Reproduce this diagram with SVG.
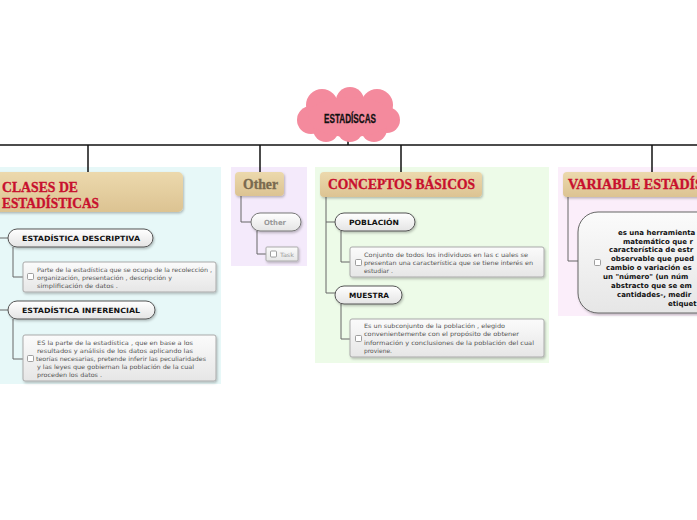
<svg xmlns="http://www.w3.org/2000/svg" width="697" height="520" viewBox="0 0 697 520">
<defs>
<linearGradient id="gHead" x1="0" y1="0" x2="0" y2="1"><stop offset="0" stop-color="#ecd9ad"/><stop offset="1" stop-color="#dcc392"/></linearGradient>
<linearGradient id="gPill" x1="0" y1="0" x2="0" y2="1"><stop offset="0" stop-color="#ffffff"/><stop offset="1" stop-color="#e4e4e4"/></linearGradient>
<linearGradient id="gBox" x1="0" y1="0" x2="0" y2="1"><stop offset="0" stop-color="#fbfbfb"/><stop offset="1" stop-color="#e6e6e6"/></linearGradient>
<filter id="sh" x="-10%" y="-20%" width="130%" height="160%"><feDropShadow dx="1" dy="1.5" stdDeviation="1" flood-color="#000" flood-opacity="0.25"/></filter>
</defs>
<style>
.bg{stroke:none}
.head{fill:url(#gHead);filter:url(#sh)}
.ht{font-family:"Liberation Serif","Times New Roman",serif;font-weight:bold;font-size:15px;fill:#c8102e;stroke:#c8102e;stroke-width:0.35}
.pill{fill:url(#gPill);stroke:#555;stroke-width:1;filter:url(#sh)}
.pt{font-family:"DejaVu Sans",Verdana,sans-serif;font-weight:bold;font-size:7.2px;fill:#111}
.box{fill:url(#gBox);stroke:#aaa;stroke-width:1;filter:url(#sh)}
.dt{font-family:"DejaVu Sans",Verdana,sans-serif;font-size:6px;fill:#555}
.cb{fill:#fff;stroke:#888;stroke-width:0.8}
.tree{fill:none;stroke:#666;stroke-width:1}
.main{fill:none;stroke:#111;stroke-width:1.5}
.vt{font-family:"DejaVu Sans",Verdana,sans-serif;font-weight:bold;font-size:7px;fill:#111}
</style>
<rect width="697" height="520" fill="#fff"/>

<!-- panels -->
<rect class="bg" x="0" y="167" width="221" height="217" fill="#e7f8f8"/>
<rect class="bg" x="231" y="167" width="76" height="99" fill="#f4eafb"/>
<rect class="bg" x="315" y="167" width="234" height="196" fill="#edfbe8"/>
<rect class="bg" x="558" y="167" width="139" height="149" fill="#fbeefa"/>

<g id="connectors">
<line class="main" x1="0" y1="145" x2="697" y2="145"/>
<line class="main" x1="348" y1="140" x2="348" y2="145"/>
<line class="main" x1="88" y1="145" x2="88" y2="172"/>
<line class="main" x1="260" y1="145" x2="260" y2="172"/>
<line class="main" x1="401" y1="145" x2="401" y2="172"/>
<line class="main" x1="652" y1="145" x2="652" y2="172"/>
<path class="tree" d="M0,238 H8 M0,310 H8"/>
<path class="tree" d="M13,247 V277 H23"/>
<path class="tree" d="M13,319 V359 H23"/>
<path class="tree" d="M241,196 V222 H251"/>
<path class="tree" d="M257,231 V254 H266"/>
<path class="tree" d="M326,197 V293 H335 M326,222 H335"/>
<path class="tree" d="M341,231 V262 H350"/>
<path class="tree" d="M341,304 V339 H350"/>
<path class="tree" d="M568,197 V261 H578"/>
</g>

<g id="root">
<g fill="#f48a9d">
<circle cx="322" cy="105" r="16"/>
<circle cx="350" cy="101" r="14"/>
<circle cx="377" cy="105" r="16"/>
<circle cx="311" cy="120" r="14"/>
<circle cx="387" cy="120" r="13"/>
<circle cx="326" cy="129" r="13"/>
<circle cx="350" cy="129" r="13"/>
<circle cx="374" cy="129" r="13"/>
<ellipse cx="350" cy="117" rx="42" ry="20"/>
</g>
<text x="350" y="123" text-anchor="middle" font-family="'Liberation Sans',Arial,sans-serif" font-weight="bold" font-size="13" fill="#111" stroke="#111" stroke-width="0.3" textLength="52" lengthAdjust="spacingAndGlyphs">ESTADÍSCAS</text>
</g>

<g id="clases">
<rect class="head" x="-6" y="172" width="189" height="40" rx="5"/>
<text class="ht" x="2" y="192" textLength="76" lengthAdjust="spacingAndGlyphs">CLASES DE</text>
<text class="ht" x="2" y="208" textLength="97" lengthAdjust="spacingAndGlyphs">ESTADÍSTICAS</text>
</g>
<g id="descriptiva">
<rect class="pill" x="8" y="229" width="145" height="18" rx="9"/>
<text class="pt" x="22" y="241" textLength="118" lengthAdjust="spacingAndGlyphs">ESTADÍSTICA DESCRIPTIVA</text>
</g>
<g id="descriptiva-text">
<rect class="box" x="23" y="262" width="193" height="30" rx="2"/>
<rect class="cb" x="27.5" y="273.5" width="6" height="6" rx="1"/>
<text class="dt" x="37" y="272" textLength="175" lengthAdjust="spacingAndGlyphs">Parte de la estadística que se ocupa de la recolección ,</text>
<text class="dt" x="37" y="280" textLength="135" lengthAdjust="spacingAndGlyphs">organización,  presentación , descripción  y</text>
<text class="dt" x="37" y="288" textLength="81" lengthAdjust="spacingAndGlyphs">simplificación  de datos  .</text>
</g>
<g id="inferencial">
<rect class="pill" x="8" y="301" width="147" height="18" rx="9"/>
<text class="pt" x="22" y="313" textLength="118" lengthAdjust="spacingAndGlyphs">ESTADÍSTICA INFERENCIAL</text>
</g>
<g id="inferencial-text">
<rect class="box" x="23" y="335" width="193" height="46" rx="2"/>
<rect class="cb" x="27.5" y="355.5" width="6" height="6" rx="1"/>
<text class="dt" x="37" y="345" textLength="156" lengthAdjust="spacingAndGlyphs">ES la parte de la estadística , que en base a los</text>
<text class="dt" x="37" y="353" textLength="156" lengthAdjust="spacingAndGlyphs">resultados y análisis de los datos aplicando las</text>
<text class="dt" x="36" y="361" textLength="170" lengthAdjust="spacingAndGlyphs">teorías necesarias, pretende inferir las peculiaridades</text>
<text class="dt" x="37" y="369" textLength="157" lengthAdjust="spacingAndGlyphs">y las leyes que gobiernan la población de la cual</text>
<text class="dt" x="37" y="377" textLength="65" lengthAdjust="spacingAndGlyphs">proceden los datos .</text>
</g>

<g id="other">
<rect class="head" x="235" y="172" width="49" height="24" rx="4"/>
<text class="ht" x="243" y="189" style="fill:#7a6a4e;stroke:#7a6a4e" textLength="35" lengthAdjust="spacingAndGlyphs">Other</text>
</g>
<g id="other-sub">
<rect class="pill" x="251" y="213" width="50" height="18" rx="9" style="stroke:#777"/>
<text class="pt" x="264" y="225" style="fill:#999" textLength="22" lengthAdjust="spacingAndGlyphs">Other</text>
</g>
<g id="task">
<rect class="box" x="266" y="247" width="32" height="14" rx="1"/>
<rect class="cb" x="270.5" y="251" width="6" height="6" rx="1"/>
<text class="dt" x="280" y="256.5" style="fill:#999" textLength="14" lengthAdjust="spacingAndGlyphs">Task</text>
</g>

<g id="conceptos">
<rect class="head" x="320" y="172" width="162" height="25" rx="4"/>
<text class="ht" x="328" y="189" textLength="147" lengthAdjust="spacingAndGlyphs">CONCEPTOS BÁSICOS</text>
</g>
<g id="poblacion">
<rect class="pill" x="335" y="213" width="80" height="18" rx="9"/>
<text class="pt" x="349" y="225" textLength="50" lengthAdjust="spacingAndGlyphs">POBLACIÓN</text>
</g>
<g id="poblacion-text">
<rect class="box" x="350" y="247" width="194" height="30" rx="2"/>
<rect class="cb" x="355.5" y="259.5" width="6" height="6" rx="1"/>
<text class="dt" x="364" y="257" textLength="164" lengthAdjust="spacingAndGlyphs">Conjunto de todos los individuos en las c uales se</text>
<text class="dt" x="364" y="265" textLength="169" lengthAdjust="spacingAndGlyphs">presentan una característica que se tiene interés en</text>
<text class="dt" x="364" y="273" textLength="29" lengthAdjust="spacingAndGlyphs">estudiar .</text>
</g>
<g id="muestra">
<rect class="pill" x="335" y="286" width="67" height="18" rx="9"/>
<text class="pt" x="349" y="298" textLength="40" lengthAdjust="spacingAndGlyphs">MUESTRA</text>
</g>
<g id="muestra-text">
<rect class="box" x="350" y="319" width="194" height="38" rx="2"/>
<rect class="cb" x="355.5" y="335.5" width="6" height="6" rx="1"/>
<text class="dt" x="364" y="328" textLength="141" lengthAdjust="spacingAndGlyphs">Es un subconjunto de la población , elegido</text>
<text class="dt" x="364" y="336" textLength="155" lengthAdjust="spacingAndGlyphs">convenientemente con el propósito de obtener</text>
<text class="dt" x="364" y="345" textLength="170" lengthAdjust="spacingAndGlyphs">información y conclusiones de la población del cual</text>
<text class="dt" x="364" y="353" textLength="28" lengthAdjust="spacingAndGlyphs">proviene.</text>
</g>

<g id="variable">
<rect class="head" x="563" y="172" width="160" height="25" rx="4"/>
<text class="ht" x="568" y="189" textLength="170" lengthAdjust="spacingAndGlyphs">VARIABLE ESTADÍSTICA</text>
</g>
<g id="variable-text">
<rect x="578" y="212" width="140" height="101" rx="20" fill="url(#gBox)" stroke="#666" stroke-width="1" filter="url(#sh)"/>
<rect class="cb" x="594.5" y="259.5" width="6" height="6" rx="1"/>
<text class="vt" x="618" y="234.5">es una herramienta</text>
<text class="vt" x="623" y="243.5">matemático que r</text>
<text class="vt" x="609" y="252">característica de estr</text>
<text class="vt" x="611" y="260.5">observable que pued</text>
<text class="vt" x="606" y="269.5">cambio o variación es</text>
<text class="vt" x="603" y="278.5">un "número" (un núm</text>
<text class="vt" x="611" y="287.5">abstracto que se em</text>
<text class="vt" x="617" y="296.5">cantidades-, medir</text>
<text class="vt" x="668" y="305.5">etiquet</text>
</g>
</svg>
